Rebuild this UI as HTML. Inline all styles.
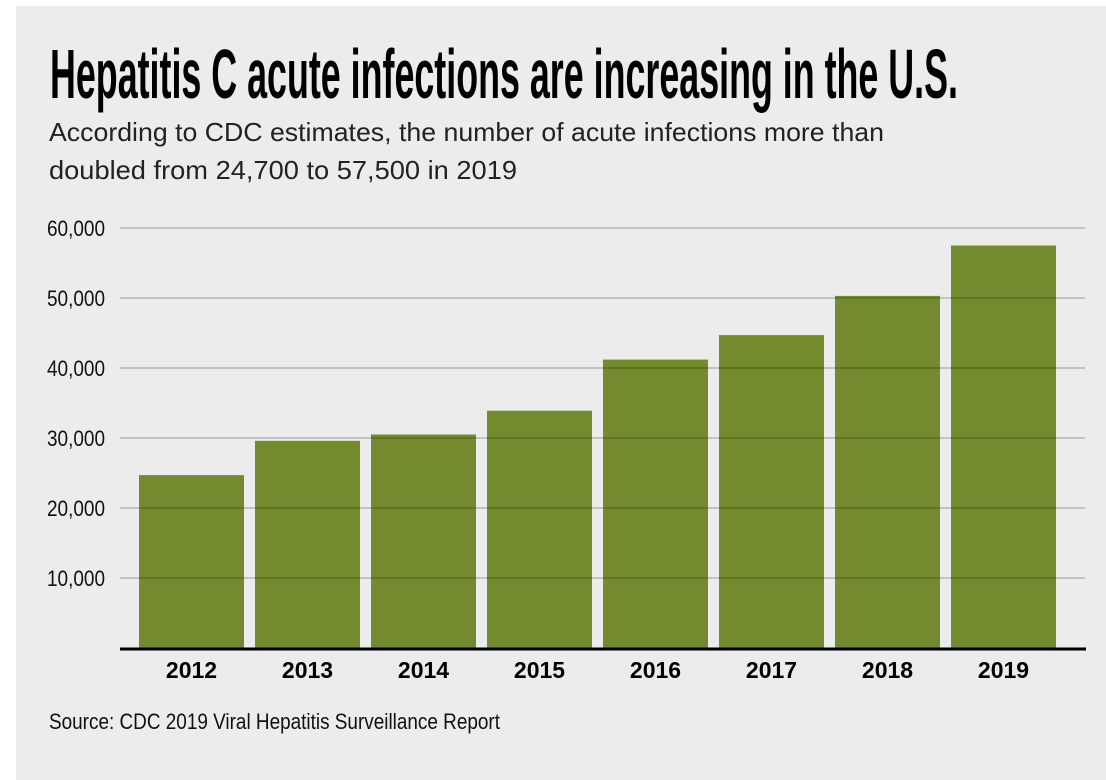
<!DOCTYPE html>
<html><head><meta charset="utf-8"><style>
html,body{margin:0;padding:0;background:#fff;}
svg{display:block;}
</style></head><body>
<svg width="1106" height="780" font-family="'Liberation Sans', sans-serif">
<rect x="16" y="6" width="1090" height="774" fill="#ececec"/>
<text x="50" y="98" font-size="70" font-weight="bold" textLength="908" lengthAdjust="spacingAndGlyphs" fill="#000">Hepatitis C acute infections are increasing in the U.S.</text>
<text x="49" y="141" font-size="26" fill="#222" textLength="835" lengthAdjust="spacingAndGlyphs">According to CDC estimates, the number of acute infections more than</text>
<text x="49" y="179" font-size="26" fill="#222" textLength="468" lengthAdjust="spacingAndGlyphs">doubled from 24,700 to 57,500 in 2019</text>
<g id="bars"></g>
<g id="grid"></g>
<line x1="120" x2="1086" y1="649" y2="649" stroke="#000" stroke-width="3"/>
<g id="xlabels"></g>
<text x="49" y="729" font-size="22" fill="#111" textLength="451" lengthAdjust="spacingAndGlyphs">Source: CDC 2019 Viral Hepatitis Surveillance Report</text>
</svg>
<script>
const categories=["2012","2013","2014","2015","2016","2017","2018","2019"];
const values=[24700,29600,30500,33900,41200,44700,50300,57500];
const yTicks=[10000,20000,30000,40000,50000,60000];
const yTickLabels=["10,000","20,000","30,000","40,000","50,000","60,000"];
const NS="http://www.w3.org/2000/svg";
function y(v){return 648-v*0.007;}
function x(i){return 139+i*116.0;}
const bw=105;
const bars=document.getElementById('bars'),grid=document.getElementById('grid'),xl=document.getElementById('xlabels');
categories.forEach((c,i)=>{
 const r=document.createElementNS(NS,'rect');
 r.setAttribute('x',x(i));r.setAttribute('y',y(values[i]));r.setAttribute('width',bw);r.setAttribute('height',648-y(values[i]));r.setAttribute('fill','#748a2e');
 
 
 bars.appendChild(r);
 const t=document.createElementNS(NS,'text');
 t.setAttribute('x',x(i)+bw/2);t.setAttribute('y',678);t.setAttribute('text-anchor','middle');t.setAttribute('font-size','23');t.setAttribute('font-weight','bold');
 t.textContent=c;
 
 
 xl.appendChild(t);
});
yTicks.forEach((v,i)=>{
 const l=document.createElementNS(NS,'line');
 l.setAttribute('x1',120);l.setAttribute('x2',1085);l.setAttribute('y1',y(v));l.setAttribute('y2',y(v));l.setAttribute('stroke','rgba(0,0,0,0.35)');l.setAttribute('stroke-width','1');
 
 
 grid.appendChild(l);
 const t=document.createElementNS(NS,'text');
 t.setAttribute('x',47);t.setAttribute('y',y(v)+8);t.setAttribute('font-size','22');t.setAttribute('fill','#111');
 t.setAttribute('textLength','58');t.setAttribute('lengthAdjust','spacingAndGlyphs');
 t.textContent=yTickLabels[i];
 
 
 grid.appendChild(t);
});
</script>
</body></html>
